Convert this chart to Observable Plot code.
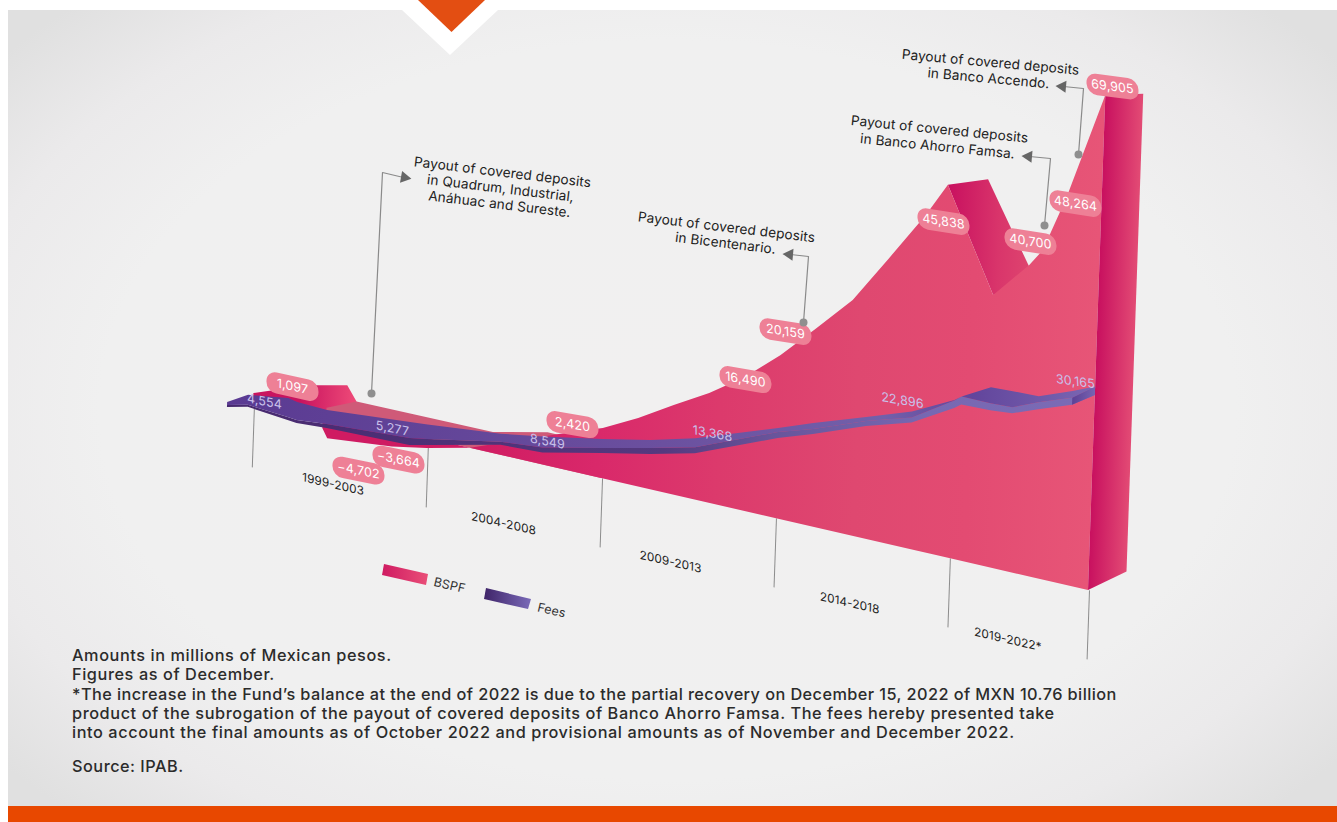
<!DOCTYPE html>
<html>
<head>
<meta charset="utf-8">
<script src="https://cdn.jsdelivr.net/npm/d3@7"></script>
<script src="https://cdn.jsdelivr.net/npm/@observablehq/plot@0.6"></script>
<style>
  html, body { margin: 0; padding: 0; background: #fff; }
  #page { position: relative; width: 1337px; height: 822px; overflow: hidden; background: #fff; font-family: Inter, "Open Sans", sans-serif; }
  #panel { position: absolute; left: 8px; top: 10px; right: 0; bottom: 16px;
    background: radial-gradient(ellipse 860px 560px at 660px 400px, #f1f0f0 0%, #f0f0f0 66%, #ebeaeb 84%, #e0e0e0 100%); }
  #bar { position: absolute; left: 8px; right: 0; bottom: 0; height: 16px; background: #e84800; }
  #notch { position: absolute; left: 402px; top: 10px; width: 96px; height: 45px; background: #fff; clip-path: polygon(0 0, 100% 0, 50% 100%); }
  #tab { position: absolute; left: 418px; top: 0; width: 67px; height: 32px; background: #e34e12; clip-path: polygon(0 0, 100% 0, 50% 100%); }
  #chart { position: absolute; left: 0; top: 0; width: 1337px; height: 670px; }
  #chart svg { position: absolute; left: 0; top: 0; background: transparent; overflow: visible; }
  #chart text { letter-spacing: 0.1px; }
  #notes { position: absolute; left: 72px; top: 646px; width: 1250px; color: #2b2b2b; font-size: 16.3px; font-weight: 500; line-height: 19.3px; letter-spacing: 0.58px; }
  #notes p { margin: 0; white-space: nowrap; }
  #notes .long { letter-spacing: 0.43px; }
  #notes .source { margin-top: 14.5px; letter-spacing: 0.5px; }
</style>
</head>
<body>
<div id="page">
  <div id="panel"></div>
  <div id="notch"></div>
  <div id="tab"></div>
  <div id="bar"></div>
  <div id="chart"></div>
  <div id="notes">
    <p>Amounts in millions of Mexican pesos.</p>
    <p>Figures as of December.</p>
    <p class="long">*The increase in the Fund’s balance at the end of 2022 is due to the partial recovery on December 15, 2022 of MXN 10.76 billion</p>
    <p>product of the subrogation of the payout of covered deposits of Banco Ahorro Famsa. The fees hereby presented take</p>
    <p>into account the final amounts as of October 2022 and provisional amounts as of November and December 2022.</p>
    <p class="source">Source: IPAB.</p>
  </div>
</div>
<script>
// BSPF balance, split into the pieces of the folded ribbon.
const humpYears = [1998, 1999, 1999.8, 2000.67, 2000.95];
const humpValues = [300, 1097, 1472, 1764, 1180];
const shelfYears = [2000.1, 2000.95, 2004.87, 2006.43, 2008];
const shelfValues = [430, 1180, 1220, 1722, 1722];
const troughYears = [2000, 2000.15, 2002, 2003, 2004.23];
const troughValues = [-3984, -4702, -4183, -3664, 0];
const riseYears = [2004.23, 2007.2, 2008, 2009, 2010, 2011, 2012, 2013, 2014, 2015, 2016, 2017, 2017.6, 2019, 2020, 2020.37, 2021, 2022];
const riseValues = [0, 2013, 2420, 4660, 7277, 9767, 12756, 16490, 20159, 26826, 36085, 42890, 45838, 33678, 40700, 42193, 48264, 69905];

// Inner face of the fold after the 2018 peak, and the end face of the ribbon.
const foldFrontYears = [2017.6, 2019];
const foldFrontValues = [45838, 33678];
const foldBackYears = [2018.74, 2020.2];
const foldBackValues = [48200, 38122];
const endYears = [2022, 2023.08];
const endLow = [0, 1472];
const endHigh = [69905, 71800];

// Fees ribbon: front edge, fold line and upper edge.
const feeYears = [1997.26, 1997.85, 1999, 1999.26, 2000.12, 2002.5, 2003, 2005.1, 2006.3, 2008, 2009.37, 2010.65, 2013, 2014, 2015.5, 2016.8, 2018, 2018.2, 2019.03, 2019.66, 2020.4, 2021.36, 2022];
const feeValues = [4451, 4967, 4554, 4451, 4657, 4864, 5277, 7015, 7220, 8549, 9425, 10389, 13368, 15001, 17724, 19629, 22896, 23704, 23866, 24188, 25804, 27743, 30165];
const feeFold = [4657, 5174, 4864, 4761, 5070, 5584, 5890, 7322, 7731, 8987, 9951, 10915, 14185, 15682, 18404, 20310, 24100, 24996, 24996, 25158, 26935, 28874, 31538];
const feeTop = [4967, 6197, 6811, 6606, 6504, 7220, 7373, 8140, 8812, 9776, 10652, 11703, 14729, 16499, 18949, 21126, 24188, 24996, 27581, 27743, 27904, 30004, 31538];

// Value labels.
const bspfLabelYears = [1999, 2000.15, 2003, 2008, 2013, 2014, 2017.6, 2020, 2021, 2022];
const bspfLabelValues = [1097, -4702, -3664, 2420, 16490, 20159, 45838, 40700, 48264, 69905];
const feeLabelYears = [1999, 2003, 2008, 2013, 2018, 2022];
const feeLabelValues = [4554, 5277, 8549, 13368, 22896, 30165];

// Periods along the baseline.
const periodEdges = [1998, 2003, 2008, 2013, 2018, 2022];
const periodNames = ["1999-2003", "2004-2008", "2009-2013", "2014-2018", "2019-2022*"];
const periodCentres = [2000.35, 2005.25, 2010.05, 2015.2, 2019.75];

// Value-to-height knots of the drawing's two uneven vertical scales.
const bspfKnots = [-30000, -4702, -3664, 0, 1097, 2420, 16490, 20159, 40700, 45838, 48264, 69905, 72000];
const bspfHeights = [-69, -23, -10, 0, 18, 50, 163, 198, 309, 370, 385, 495, 506];
const feeKnots = [3000, 4554, 5277, 8549, 13368, 22896, 30165, 32000];
const feeHeights = [-29, -14, -7, 25, 80, 150, 195, 206.4];

// Oblique view: baseline slope, lean of the verticals, and page offsets.
const slope = 0.23, lean = -0.035, level = 500;
const viewE = -lean * level, viewF = 339.76 - level;
const toPage = (x, y) => [x + lean * y + viewE, slope * x + y + viewF];
const pageDelta = (dx, dy) => {
  const det = 1 - slope * lean;
  return [(dx - lean * dy) / det, (dy - slope * dx) / det];
};
const yearToX = d3.scaleLinear([1999, 2022], [288, 1088]);
const heightsToRange = hs => hs.map(h => level - h);
const bspfY = d3.scaleLinear(bspfKnots, heightsToRange(bspfHeights));
const feeY = d3.scaleLinear(feeKnots, heightsToRange(feeHeights));

const FONT = "Inter, 'Open Sans', sans-serif";
const rows = (xs, ys) => xs.map((x, i) => ({x, y: ys[i]}));

function gradient(id, x1, x2, stops) {
  const g = d3.create("svg:linearGradient").attr("id", id).attr("gradientUnits", "userSpaceOnUse")
    .attr("x1", x1).attr("x2", x2).attr("y1", 0).attr("y2", 0);
  stops.forEach(([o, c]) => g.append("stop").attr("offset", o).attr("stop-color", c));
  return g.node();
}
const defs = (...gs) => () => {
  const d = d3.create("svg:defs");
  gs.forEach(g => d.node().appendChild(g));
  return d.node();
};

// A rounded label plate, drawn centred on the point.
const plate = {draw(ctx) {
  const w = 26, h = 10.5, r = 10;
  ctx.moveTo(-w + r, -h);
  ctx.lineTo(w - r, -h);
  ctx.arcTo(w, -h, w, 0, r);
  ctx.arcTo(w, h, w - r, h, r);
  ctx.lineTo(-w + r, h);
  ctx.arcTo(-w, h, -w, 0, r);
  ctx.arcTo(-w, -h, -w + r, -h, r);
  ctx.closePath();
}};

function oblique(svg) {
  const g = document.createElementNS("http://www.w3.org/2000/svg", "g");
  g.setAttribute("transform", `matrix(1 ${slope} ${lean} 1 ${viewE} ${viewF})`);
  while (svg.firstChild) g.appendChild(svg.firstChild);
  svg.appendChild(g);
  return svg;
}

function layer(knots, heights, marks) {
  return oblique(Plot.plot({
    width: 1337, height: 670,
    marginTop: 0, marginRight: 0, marginBottom: 0, marginLeft: 0,
    x: {type: "linear", domain: yearToX.domain(), range: yearToX.range(), axis: null},
    y: {type: "linear", domain: knots, range: heightsToRange(heights), axis: null},
    style: {background: "transparent", overflow: "visible"},
    marks
  }));
}

// Places a label at a page position through its data point.
function placed(scaleY, year, value, pageX, pageY, pageSlope) {
  const [px, py] = toPage(yearToX(year), scaleY(value));
  const [dx, dy] = pageDelta(pageX - px, pageY - py);
  const rotate = Math.atan((pageSlope - slope) / (1 + lean * pageSlope)) * 180 / Math.PI;
  return {dx, dy, rotate};
}

const bspfLabelLayout = [[292, 386, .22], [358, 470, .2], [398, 459, .2], [572, 424, .17], [745, 379, .17], [785, 331, .16], [943, 221, .16], [1030, 241, .16], [1075, 203, .16], [1112, 86, .13]];
const feeLabelLayout = [[264, 401, .2], [392, 428, .2], [547, 441, .2], [712, 433, .19], [902, 400, .17], [1075, 381, .14]];

const bspfGround = layer(bspfKnots, bspfHeights, [
  defs(
    gradient("hump", 300, 355, [[0, "#c9145f"], [1, "#ee4a78"]]),
    gradient("rise", 470, 1088, [[0, "#cf1b62"], [.2, "#d9286a"], [.4, "#dc3a6c"], [.62, "#df4870"], [.8, "#e34b72"], [1, "#e75577"]]),
    gradient("fold", 935, 1030, [[0, "#c8105f"], [.55, "#d9356b"], [1, "#e04a70"]]),
    gradient("end", 1088, 1125, [[0, "#c8105f"], [1, "#e24a74"]])
  ),
  Plot.ruleX(periodEdges, {x: d => d, y1: 0, y2: -30000, dx: 1, stroke: "#8c8c8c", strokeWidth: 1}),
  Plot.area(rows(humpYears, humpValues), {x1: "x", y1: 0, y2: "y", fill: "url(#hump)"}),
  Plot.area(rows(shelfYears, shelfValues), {x1: "x", y1: 0, y2: "y", fill: "#cf5a78"}),
  Plot.area(rows(troughYears, troughValues), {x1: "x", y1: 0, y2: "y", fill: "#cf1b62"}),
  Plot.area(foldFrontYears.map((x, i) => ({x, y: foldFrontValues[i], bx: foldBackYears[i], by: foldBackValues[i]})), {x1: "x", y1: "y", x2: "bx", y2: "by", fill: "url(#fold)"}),
  Plot.area(rows(riseYears, riseValues), {x1: "x", y1: 0, y2: "y", fill: "url(#rise)"}),
  Plot.area(endYears.map((x, i) => ({x, lo: endLow[i], hi: endHigh[i]})), {x1: "x", y1: "lo", y2: "hi", fill: "url(#end)"}),
  Plot.text(periodNames, {x: (d, i) => periodCentres[i], y: 0, dy: 67, text: d => d, fontSize: 11.8, fontFamily: FONT, fill: "#222"})
]);

const feeTable = feeYears.map((x, i) => ({x, front: feeValues[i], mid: feeFold[i], top: feeTop[i]}));
const feeFormat = d3.format(",");
const feeRibbon = layer(feeKnots, feeHeights, [
  defs(
    gradient("feeTop", 228, 1097, [[0, "#5a3a92"], [.5, "#6b509f"], [.75, "#7260aa"], [.85, "#62459c"], [.96, "#7560ae"], [1, "#7c6ab6"]]),
    gradient("feeFront", 228, 1097, [[0, "#47296f"], [.5, "#55397f"], [.62, "#68549a"], [.8, "#7768b2"], [1, "#7b6bb6"]]),
    gradient("feeEnd", 1066, 1090, [[0, "#5c4296"], [1, "#7a66b4"]])
  ),
  Plot.area(feeTable, {x1: "x", y1: "front", y2: "mid", fill: "url(#feeFront)"}),
  Plot.area(feeTable, {x1: "x", y1: "mid", y2: "top", fill: "url(#feeTop)"}),
  // The last stretch of the front edge turns away and reads as a darker facet.
  Plot.area(feeTable.slice(-2), {x1: "x", y1: "front", y2: "mid", fill: "url(#feeEnd)"}),
  ...feeLabelValues.map((value, i) => {
    const [px, py, s] = feeLabelLayout[i];
    return Plot.text([value], {
      x: () => feeLabelYears[i], y: d => d, text: d => feeFormat(d),
      ...placed(feeY, feeLabelYears[i], value, px, py, s),
      fontSize: 12.5, fontFamily: FONT, fill: "#c9c0ea"
    });
  })
]);

const bspfPlates = layer(bspfKnots, bspfHeights, bspfLabelValues.flatMap((value, i) => {
  const [px, py, s] = bspfLabelLayout[i];
  const at = placed(bspfY, bspfLabelYears[i], value, px, py, s);
  return [
    Plot.dot([value], {x: () => bspfLabelYears[i], y: d => d, r: 1, symbol: plate, fill: "#ee8096", stroke: "none", ...at}),
    Plot.text([value], {x: () => bspfLabelYears[i], y: d => d, text: d => feeFormat(d), fontSize: 12.5, fontFamily: FONT, fill: "#fff", ...at})
  ];
}));

// Call-outs and legend sit on the page plane, in page units.
const callouts = [
  {path: [[371, 393], [382, 172], [403, 177]], tip: [404, 177], dir: 100, at: [[502, 172], [500, 188], [499, 204]], s: .12,
   lines: ["Payout of covered deposits", "in Quadrum, Industrial,", "Anáhuac and Sureste."]},
  {path: [[803, 322], [808, 256], [790, 254]], tip: [789, 254], dir: -85, at: [[726, 227], [725, 243]], s: .12,
   lines: ["Payout of covered deposits", "in Bicentenario."]},
  {path: [[1044, 225], [1050, 158], [1029, 156]], tip: [1028, 156], dir: -85, at: [[939, 129], [937, 146]], s: .1,
   lines: ["Payout of covered deposits", "in Banco Ahorro Famsa."]},
  {path: [[1078, 154], [1083, 88], [1063, 86]], tip: [1062, 86], dir: -85, at: [[990, 62], [988, 78]], s: .09,
   lines: ["Payout of covered deposits", "in Banco Accendo."]}
];
const legendSwatches = [
  {name: "BSPF", fill: "url(#legendBspf)", edge: [[384, 564, 382, 575], [428, 574, 426, 585]], label: [449, 585]},
  {name: "Fees", fill: "url(#legendFees)", edge: [[486, 588, 484, 599], [531, 599, 528, 609]], label: [551, 610]}
];

const pagePlane = Plot.plot({
  width: 1337, height: 670,
  marginTop: 0, marginRight: 0, marginBottom: 0, marginLeft: 0,
  x: {type: "linear", domain: [0, 1337], range: [0, 1337], axis: null},
  y: {type: "linear", domain: [0, 670], range: [0, 670], axis: null},
  style: {background: "transparent", overflow: "visible"},
  marks: [
    defs(
      gradient("legendBspf", 382, 429, [[0, "#cf1b62"], [1, "#ea4f78"]]),
      gradient("legendFees", 484, 531, [[0, "#3f2468"], [1, "#7a6ab8"]])
    ),
    ...legendSwatches.flatMap(({name, fill, edge, label}) => [
      Plot.area(edge, {x1: d => d[0], y1: d => d[1], x2: d => d[2], y2: d => d[3], fill}),
      Plot.text([name], {x: () => label[0], y: () => label[1], text: d => d, rotate: Math.atan(.23) * 180 / Math.PI, fontSize: 12.5, fontFamily: FONT, fill: "#333"})
    ]),
    ...callouts.flatMap(({path, tip, dir, at, s, lines}) => [
      Plot.line(path, {x: d => d[0], y: d => d[1], stroke: "#8a8a8a", strokeWidth: 1.2}),
      Plot.dot([path[0]], {x: d => d[0], y: d => d[1], r: 4, fill: "#8f8f8f", stroke: "none"}),
      Plot.dot([tip], {x: d => d[0], y: d => d[1], symbol: "triangle", r: 4.5, rotate: dir, fill: "#666", stroke: "none"}),
      ...lines.map((line, i) => Plot.text([line], {
        x: () => at[i][0], y: () => at[i][1], text: d => d,
        rotate: Math.atan(s) * 180 / Math.PI, fontSize: 13.6, fontFamily: FONT, fill: "#222"
      }))
    ])
  ]
});

document.getElementById("chart").append(bspfGround, feeRibbon, bspfPlates, pagePlane);
</script>
</body>
</html>
